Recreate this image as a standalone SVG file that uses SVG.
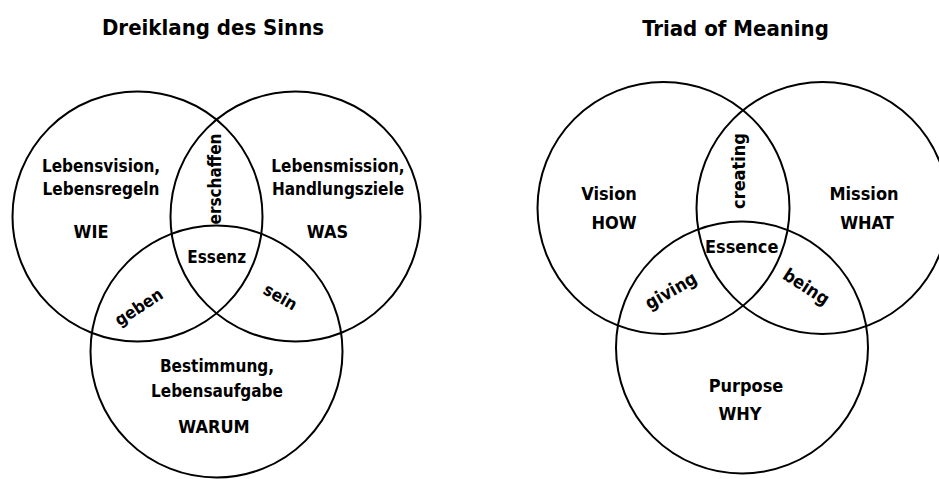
<svg xmlns="http://www.w3.org/2000/svg" width="939" height="479" viewBox="0 0 939 479">
<style>
.c{fill:none;stroke:#000;stroke-width:2}
text{font-family:"DejaVu Sans Condensed","DejaVu Sans",sans-serif;font-stretch:condensed;fill:#000;text-anchor:middle;font-weight:700}
.t{font-size:22px}
.l{font-size:17px}
.k{font-size:18px}
</style>
<rect width="939" height="479" fill="#fff"/>
<g id="de">
<text class="t" x="213" y="35">Dreiklang des Sinns</text>
<g id="de-wie"><circle class="c" cx="137.5" cy="216.5" r="125"/>
<text class="l" x="101" y="172">Lebensvision,</text>
<text class="l" x="101" y="195">Lebensregeln</text>
<text class="k" x="91" y="238">WIE</text></g>
<g id="de-was"><circle class="c" cx="295.5" cy="216.5" r="125"/>
<text class="l" x="338" y="172">Lebensmission,</text>
<text class="l" x="338" y="195">Handlungsziele</text>
<text class="k" x="327.5" y="238">WAS</text></g>
<g id="de-warum"><circle class="c" cx="216.5" cy="351.5" r="126"/>
<text class="l" x="217" y="372">Bestimmung,</text>
<text class="l" x="217" y="397">Lebensaufgabe</text>
<text class="k" x="214" y="433">WARUM</text></g>
<g id="de-overlaps">
<text class="l" transform="translate(221,179) rotate(-90)">erschaffen</text>
<text class="l" x="216.7" y="263">Essenz</text>
<text class="l" transform="translate(142,312) rotate(-33)">geben</text>
<text class="l" transform="translate(277.5,302) rotate(30)">sein</text>
</g>
</g>
<g id="en">
<text class="t" x="735.5" y="36">Triad of Meaning</text>
<g id="en-how"><circle class="c" cx="663.5" cy="208" r="126"/>
<text class="k" x="609" y="200">Vision</text>
<text class="k" x="614" y="229">HOW</text></g>
<g id="en-what"><circle class="c" cx="822.5" cy="208" r="126"/>
<text class="k" x="864" y="200">Mission</text>
<text class="k" x="867" y="229">WHAT</text></g>
<g id="en-why"><circle class="c" cx="742" cy="347.5" r="126"/>
<text class="k" x="746" y="392">Purpose</text>
<text class="k" x="740" y="420">WHY</text></g>
<g id="en-overlaps">
<text class="k" transform="translate(745,171) rotate(-90)">creating</text>
<text class="k" x="741.7" y="253">Essence</text>
<text class="k" transform="translate(674,296) rotate(-30)">giving</text>
<text class="k" transform="translate(803,292) rotate(33)">being</text>
</g>
</g>
</svg>
